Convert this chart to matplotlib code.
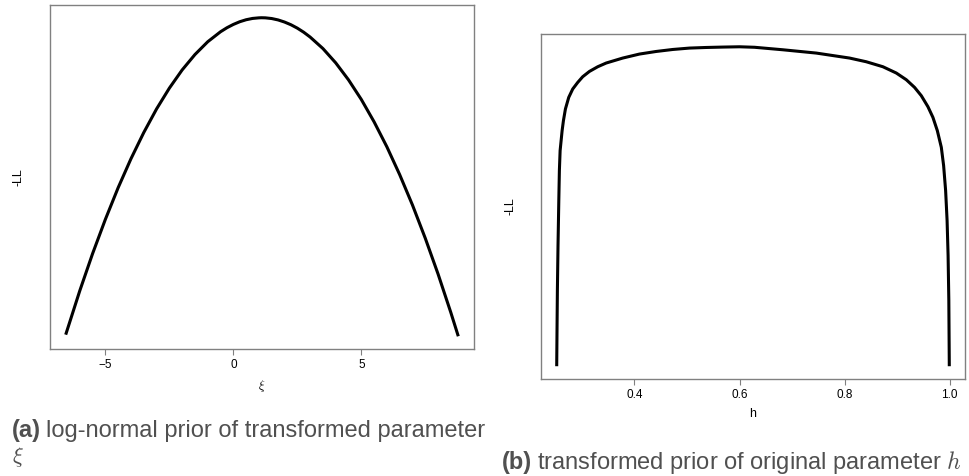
import numpy as np
import matplotlib.pyplot as plt

plt.rcParams['font.family'] = ['Liberation Sans', 'DejaVu Sans']
plt.rcParams['mathtext.fontset'] = 'cm'

# panel (a): xi vs -LL (arbitrary units)
xi = [-6.55, -6.0, -5.5, -5.0, -4.5, -4.0, -3.5, -3.0, -2.5, -2.0, -1.5, -1.0,
      -0.5, -0.25, 0.0, 0.25, 0.5, 0.75, 1.0, 1.1, 1.25, 1.5, 1.75, 2.0, 2.25,
      2.5, 2.75, 3.0, 3.5, 4.0, 4.5, 5.0, 5.5, 6.0, 6.5, 7.0, 7.5, 8.0, 8.5,
      8.79]
ll_xi = [-31.69, -27.30, -23.59, -20.16, -16.99, -14.10, -11.48, -9.12, -7.04,
         -5.22, -3.68, -2.40, -1.40, -1.00, -0.67, -0.40, -0.20, -0.07, -0.01,
         0.0, -0.01, -0.08, -0.22, -0.43, -0.70, -1.04, -1.45, -1.93, -3.08,
         -4.51, -6.21, -8.17, -10.41, -12.91, -15.69, -18.73, -22.05, -25.63,
         -29.49, -31.85]

# panel (b): h vs -LL
h = [0.2520, 0.2526, 0.2533, 0.2545, 0.2560, 0.2571, 0.2585, 0.2604, 0.2623,
     0.2648, 0.2686, 0.2749, 0.2825, 0.2920, 0.3015, 0.3143, 0.3301, 0.3461,
     0.3777, 0.4095, 0.4413, 0.4730, 0.5048, 0.5366, 0.5682, 0.6000, 0.6286,
     0.6825, 0.7461, 0.8095, 0.8413, 0.8730, 0.8985, 0.9175, 0.9333, 0.9461,
     0.9587, 0.9682, 0.9766, 0.9842, 0.9886, 0.9924, 0.9952, 0.9971, 0.9985,
     0.9994]
ll_h = [-32.0, -28.4, -24.4, -19.9, -15.4, -12.4, -10.4, -9.4, -8.4, -7.4,
        -6.23, -5.07, -4.23, -3.57, -3.0, -2.47, -2.0, -1.63, -1.13, -0.73,
        -0.47, -0.27, -0.13, -0.07, -0.03, 0.0, -0.05, -0.30, -0.63, -1.13,
        -1.5, -2.0, -2.63, -3.3, -4.07, -4.9, -6.0, -7.07, -8.4, -10.07, -11.9,
        -14.4, -17.4, -20.9, -25.4, -32.0]

W, H = 970, 476
fig = plt.figure(figsize=(W/100, H/100), dpi=100)
ax1 = fig.add_axes([50/W, 1 - 349/H, 424/W, 344/H])
ax2 = fig.add_axes([541/W, 1 - 379/H, 424/W, 345/H])

def style(ax):
    ax.margins(0.04)
    for s in ax.spines.values():
        s.set_color('#808080')
        s.set_linewidth(1.0)
    ax.set_yticks([])
    ax.tick_params(axis='x', length=4, color='#808080', labelsize=8.5, pad=3)
    ax.set_ylabel('-LL', fontsize=9, labelpad=18)

ax1.plot(xi, ll_xi, color='black', lw=2.2, solid_capstyle='butt')
style(ax1)
ax1.set_xticks([-5, 0, 5])
ax1.set_xlabel(r'$\xi$', fontsize=9, labelpad=5)

ax2.plot(h, ll_h, color='black', lw=2.2, solid_capstyle='butt')
style(ax2)
ax2.set_xticks([0.4, 0.6, 0.8, 1.0])
ax2.set_xticklabels(['0.4', '0.6', '0.8', '1.0'])
ax2.set_xlabel('h', fontsize=9, labelpad=5)

# captions: bold label, then the rest on the same baseline
cap = '#505050'
captions = [('(a)', 'log-normal prior of transformed parameter', 12, 437),
            ('(b)', r'transformed prior of original parameter $h$', 502, 469)]
fig.canvas.draw()
r = fig.canvas.get_renderer()
for lab, rest, x, y in captions:
    t = fig.text(x/W, 1 - y/H, lab, fontsize=17, fontweight='bold',
                 color=cap, va='baseline')
    x1 = t.get_window_extent(r).x1
    fig.text((x1 + 5)/W, 1 - y/H, rest, fontsize=17, color=cap, va='baseline')
fig.text(12/W, 1 - 463/H, r'$\xi$', fontsize=16, color=cap, va='baseline')

plt.savefig('out.png', dpi=100)
